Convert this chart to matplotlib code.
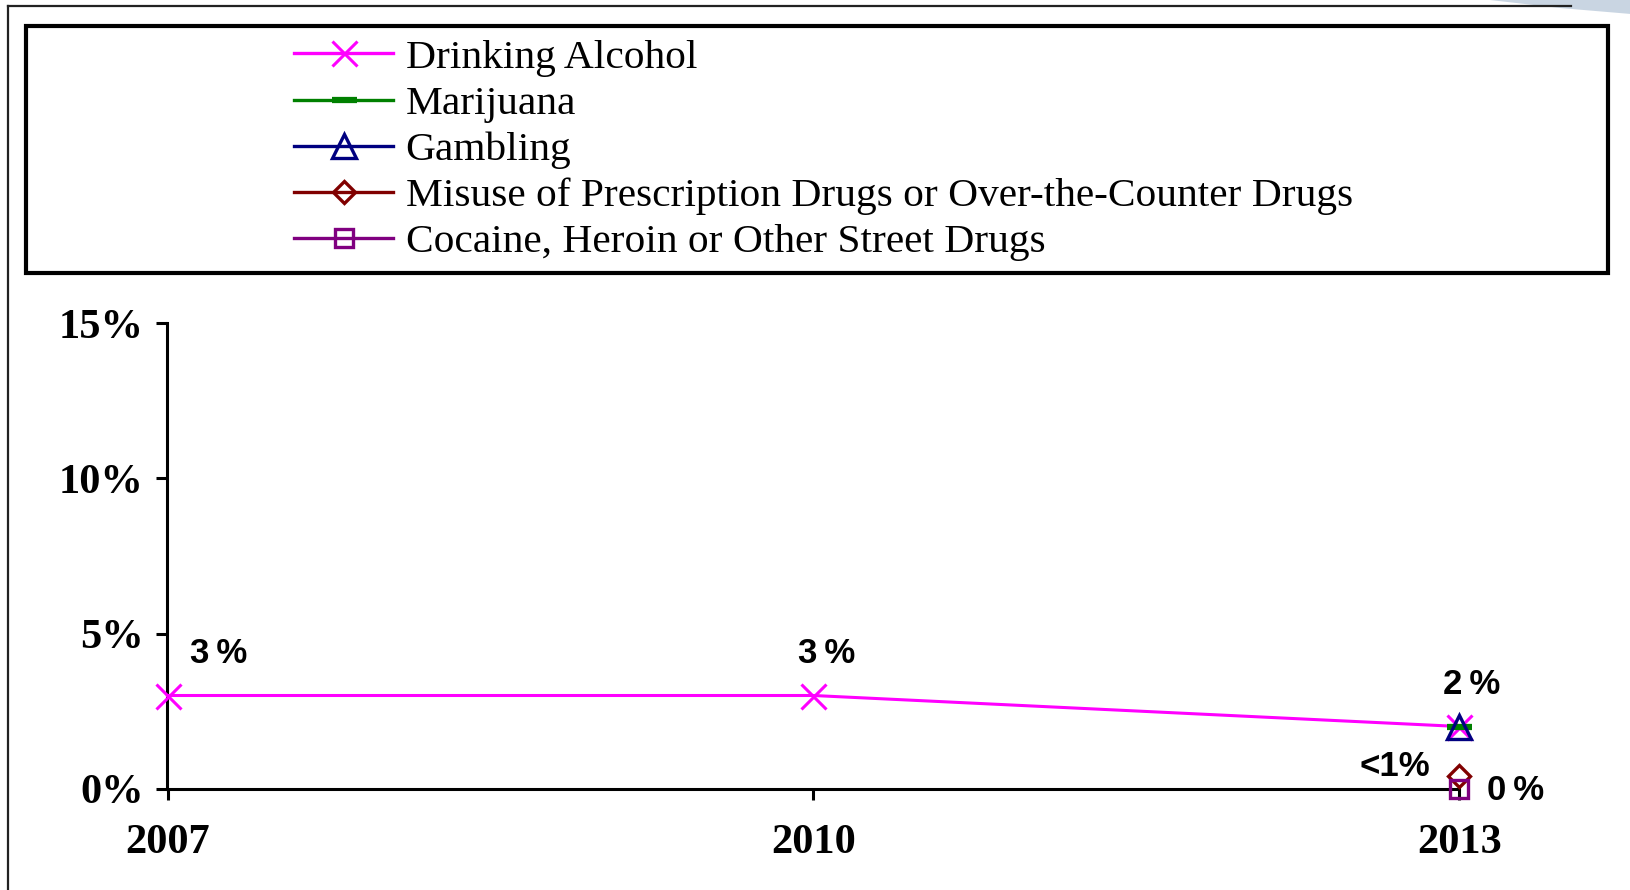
import numpy as np
import matplotlib
matplotlib.use("Agg")
import matplotlib.pyplot as plt
from matplotlib.patches import Rectangle, Polygon
from matplotlib.lines import Line2D

# ---- data ----
years = [2007, 2010, 2013]
series_names = [
    "Drinking Alcohol",
    "Marijuana",
    "Gambling",
    "Misuse of Prescription Drugs or Over-the-Counter Drugs",
    "Cocaine, Heroin or Other Street Drugs",
]
alcohol = [3, 3, 2]
marijuana = [np.nan, np.nan, 2]
gambling = [np.nan, np.nan, 2]
prescription = [np.nan, np.nan, 0.4]
cocaine = [np.nan, np.nan, 0]
y_ticks = [0, 5, 10, 15]
y_ticklabels = ["0%", "5%", "10%", "15%"]
x_ticklabels = ["2007", "2010", "2013"]

# data labels: (series index, point index, text)
data_labels = [
    (0, 0, "3\u2009%"),
    (0, 1, "3\u2009%"),
    (0, 2, "2\u2009%"),
    (3, 2, "<1%"),
    (4, 2, "0\u2009%"),
]
label_offsets_px = [(51, 42), (13.5, 42), (12.5, 42), (-65, 10), (56, -2)]

# ---- styles ----
colors = ["#FF00FF", "#008000", "#000080", "#800000", "#800080"]
markers = ["x", "_", "^", "D", "s"]
msizes = [18, 18, 17, 11.5, 13.5]
mews = [2.2, 4.5, 2.4, 2.4, 2.4]

W, H, DPI = 1631, 890, 100
fig = plt.figure(figsize=(W / DPI, H / DPI), dpi=DPI)
px = 72.0 / DPI  # points per pixel

ax_left, ax_right = 167.5, 1459.4
ax_top, ax_bottom = 323.5, 788.5
ax = fig.add_axes([ax_left / W, 1 - ax_bottom / H,
                   (ax_right - ax_left) / W, (ax_bottom - ax_top) / H])

all_series = [alcohol, marijuana, gambling, prescription, cocaine]
handles = []
for i, (name, vals) in enumerate(zip(series_names, all_series)):
    (ln,) = ax.plot(years, vals, color=colors[i], lw=2.2, marker=markers[i],
                    ms=msizes[i], mew=mews[i], mfc="none", mec=colors[i],
                    clip_on=False, label=name, zorder=3 + i)
    handles.append(ln)

ax.set_xlim(years[0], years[-1])
ax.set_ylim(0, 15)
ax.set_xticks(years)
ax.set_xticklabels(x_ticklabels)
ax.set_yticks(y_ticks)
ax.set_yticklabels(y_ticklabels)
for s in ["top", "right"]:
    ax.spines[s].set_visible(False)
for s in ["left", "bottom"]:
    ax.spines[s].set_linewidth(2.2)
    ax.spines[s].set_color("black")
for lab in ax.get_xticklabels() + ax.get_yticklabels():
    lab.set_fontfamily("Liberation Serif")
    lab.set_fontweight("bold")
    lab.set_fontsize(30.5)
ax.tick_params(axis="y", direction="out", length=8, width=2.2, pad=9)
ax.tick_params(axis="x", direction="out", length=8, width=2.2, pad=17.5)

for (si, pi, txt), (dx, dy) in zip(data_labels, label_offsets_px):
    ax.annotate(txt, (years[pi], all_series[si][pi]),
                xytext=(dx * px, dy * px), textcoords="offset points",
                ha="center", va="center", fontsize=25, fontweight="bold",
                family=["Liberation Sans", "DejaVu Sans"], zorder=10,
                annotation_clip=False)

# legend frame
lx0, lx1, ly0, ly1 = 26, 1608, 26, 272.5
fig.patches.append(Rectangle((lx0 / W, 1 - ly1 / H), (lx1 - lx0) / W, (ly1 - ly0) / H,
                             transform=fig.transFigure, fill=False,
                             ec="black", lw=3, zorder=5))
leg = fig.legend(handles=handles, labels=series_names, loc="upper left",
                 bbox_to_anchor=(294 / W, 1 - 39 / H), frameon=False,
                 borderpad=0, borderaxespad=0, handlelength=2.4,
                 handletextpad=0.3, labelspacing=0.195,
                 prop=dict(family="Liberation Serif", size=29.8))
for ln in leg.get_lines():
    ln.set_linewidth(2.4)

# outer slide frame (left and top lines)
fig.lines.append(Line2D([8 / W, 8 / W], [0, 1 - 6 / H], transform=fig.transFigure,
                        color="#222222", lw=1.6))
fig.lines.append(Line2D([8 / W, 1 - 60 / W], [1 - 6 / H, 1 - 6 / H], transform=fig.transFigure,
                        color="#222222", lw=1.6))
fig.patches.append(Polygon([[1490 / W, 1], [1, 1], [1, 1 - 14 / H], [1560 / W, 1 - 8 / H]],
                           closed=True, transform=fig.transFigure,
                           fc="#c9d5e2", ec="none"))

fig.savefig("out.png", dpi=DPI)
